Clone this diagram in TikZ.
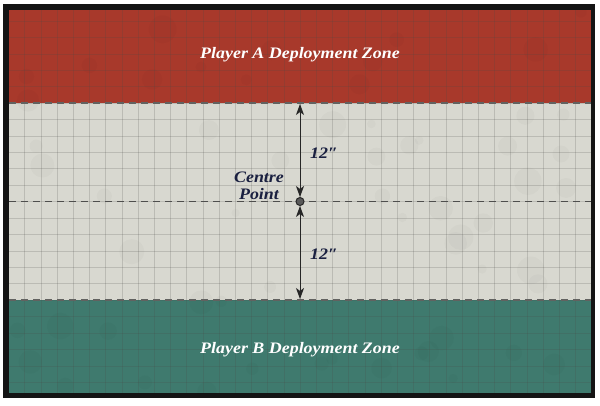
\documentclass[tikz,border=0pt]{standalone}
\usepackage{fontspec}
\setmainfont{Liberation Serif}
\newfontfamily\zonefont{Liberation Serif}[FakeStretch=1.12]
\usetikzlibrary{positioning, arrows.meta, calc}
\definecolor{cZoneA}  {HTML}{A8392B}
\definecolor{cZoneB}  {HTML}{3F7A6E}
\definecolor{cBoard}  {HTML}{D8D8D0}
\definecolor{cInk}    {HTML}{1A2040}
\definecolor{cGrid}   {HTML}{4A4A46}
\definecolor{cDash}   {HTML}{626260}

\begin{document}
\begin{tikzpicture}[x=1pt, y=-1pt,
    zonelabel/.style={font=\zonefont\bfseries\itshape\fontsize{16}{16}\selectfont, text=white, anchor=base},
    measure/.style={font=\zonefont\bfseries\itshape\fontsize{16}{17}\selectfont, text=cInk},
    gauge/.style={{Stealth[length=11pt, width=8pt, inset=3pt]}-{Stealth[length=11pt, width=8pt, inset=3pt]}, line width=0.8pt, black!85},
    zoneedge/.style={cDash, line width=1.6pt, dash pattern=on 7pt off 5pt},
    gridline/.style={cGrid, opacity=0.2, line width=0.4pt}]
  \useasboundingbox (0,0) rectangle (600,405);
  \fill[white] (0,0) rectangle (600,405);
  \fill[black!92] (3,4) rectangle (595,398);
  % zones
  \fill[cZoneA] (9,10) rectangle (591,103);
  \fill[cBoard] (9,103) rectangle (591,300);
  \fill[cZoneB] (9,300) rectangle (591,393);
  \begin{scope}
    \clip (9,10) rectangle (591,393);
    % faint wear
    \pgfmathsetseed{11}
    \foreach \k in {1,...,60}
      \fill[black, opacity=0.02] (300+290*rand, 200+195*rand) circle ({4+10*rnd});
    % grid
    \foreach \i in {-18,...,18}
      \draw[gridline] (300+\i*16.2, 10) -- (300+\i*16.2, 393);
    \foreach \j in {-6,...,18}
      \draw[gridline] (9, 103+\j*16.42) -- (591, 103+\j*16.42);
  \end{scope}
  \coordinate (edgeAL) at (9,103);   \coordinate (edgeAR) at (591,103);
  \coordinate (edgeBL) at (9,300);   \coordinate (edgeBR) at (591,300);
  \coordinate (midL)   at (9,201.5); \coordinate (midR)   at (591,201.5);
  \draw[zoneedge] (edgeAL) -- (edgeAR);
  \draw[zoneedge] (edgeBL) -- (edgeBR);
  \draw[zoneedge, cDash!80!black, line width=1.3pt] (midL) -- (midR);
  % labels
  \node[zonelabel] (labelA) at (300,58) {Player A Deployment Zone};
  \node[zonelabel] (labelB) at (300,353) {Player B Deployment Zone};
  % centre and gauges
  \node[circle, draw=black!85, line width=1pt, fill=gray!70!black, inner sep=0pt, minimum size=8pt] (centre) at (300,201.5) {};
  \coordinate (gaugeTop) at (300,104);
  \coordinate (gaugeBot) at (300,299);
  \draw[gauge] (centre) -- (gaugeTop);
  \draw[gauge] (centre) -- (gaugeBot);
  \node[measure, align=center, anchor=base] (centreLbl) at (259,199) {Centre\\Point};
  \node[measure, anchor=base west, inner sep=0pt] (distTop) at (310,158.5) {12″};
  \node[measure, anchor=base west, inner sep=0pt] (distBot) at (310,259) {12″};
\end{tikzpicture}
\end{document}
